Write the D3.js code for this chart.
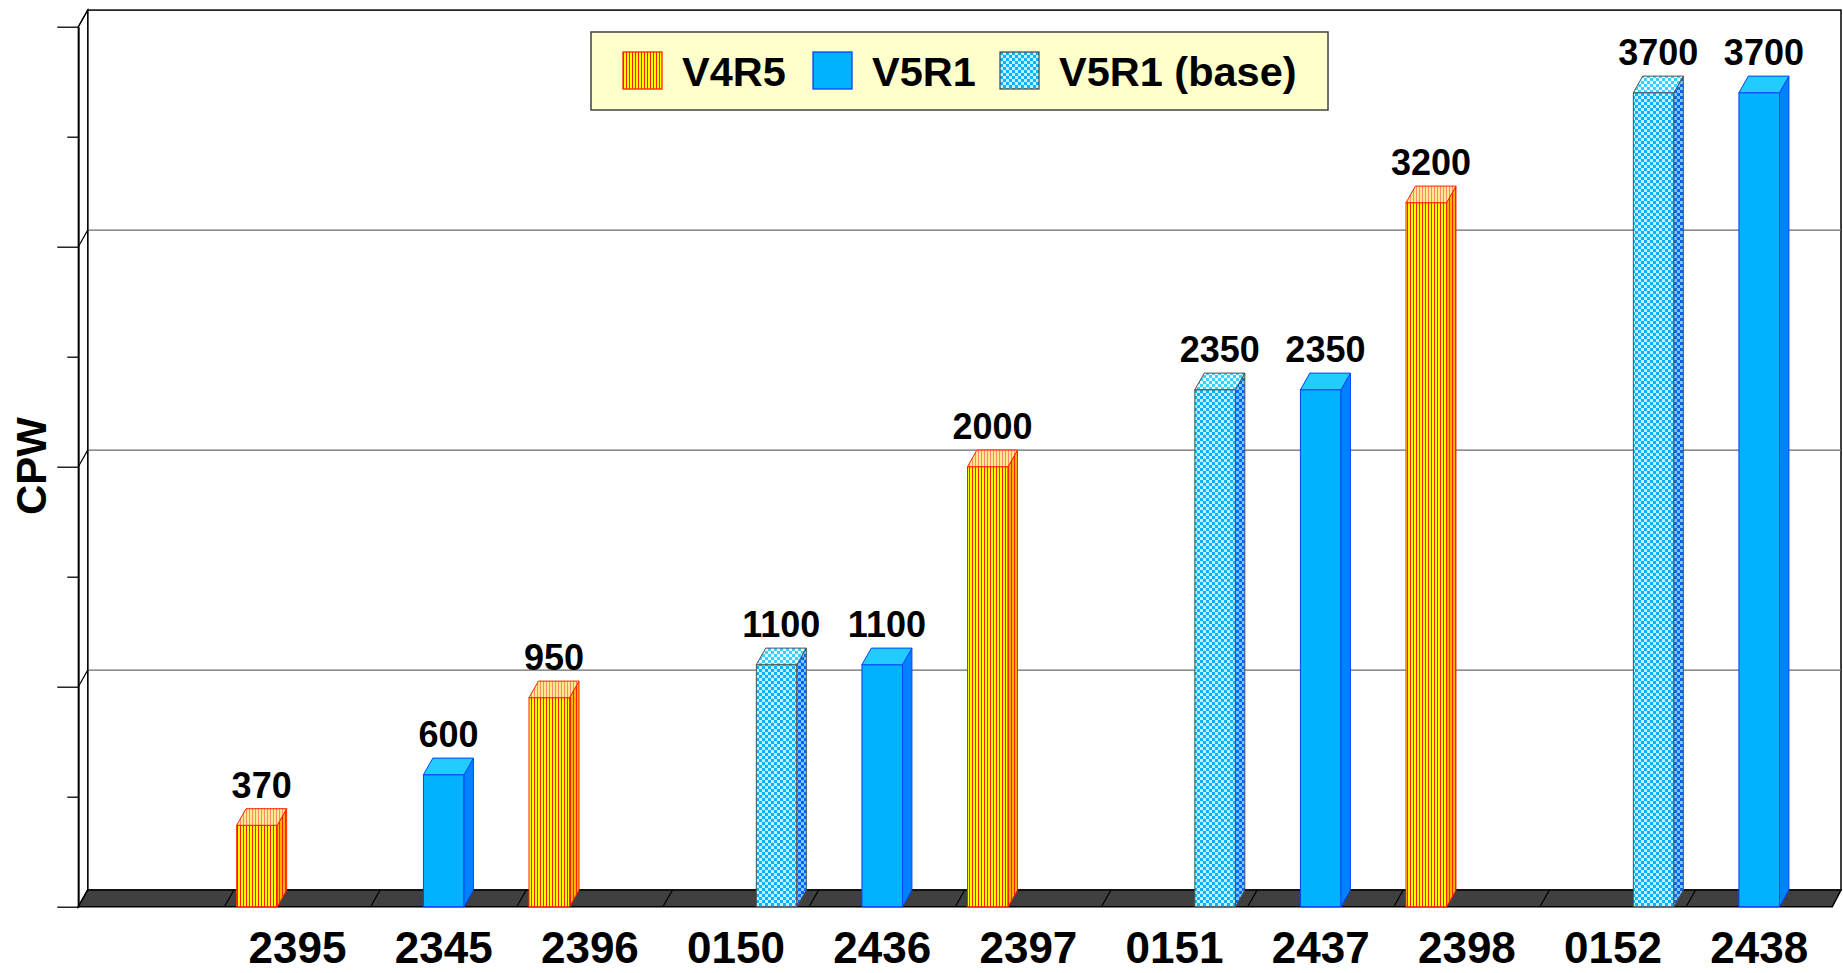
<!DOCTYPE html>
<html>
<head>
<meta charset="utf-8">
<script src="https://d3js.org/d3.v7.min.js"></script>
<style>
  body { margin: 0; background: #ffffff; }
  text { font-family: Arial, "Liberation Sans", sans-serif; font-weight: bold; }
</style>
</head>
<body>
<script>

// categories on the x axis (first slot is empty in the original)
var categories = ["", "2395", "2345", "2396", "0150", "2436", "2397", "0151", "2437", "2398", "0152", "2438"];

// series names, in the order they sit inside a category group
var series = ["V4R5", "V5R1", "V5R1 (base)"];

// values per category, null where a series has no bar
var v4r5 = [null, 370, null, 950, null, null, 2000, null, null, 3200, null, null];
var v5r1 = [null, null, 600, null, null, 1100, null, null, 2350, null, null, 3700];
var v5r1_base = [null, null, null, null, 1100, null, null, 2350, null, null, 3700, null];

// axis ticks (no tick labels are drawn in the original)
var major_ticks = [0, 1000, 2000, 3000, 4000];
var minor_ticks = [500, 1500, 2500, 3500];

var w = 1843;
var h = 973;

// 3d depth offset
var dx = 9.4;
var dy = 16.6;

// front plane of the chart
var left = 78.3;
var right = 1832.3;
var bottom = 906.7;
var top_y = 26.7;

var svg = d3.select("body")
            .append("svg")
            .attr("width", w)
            .attr("height", h);

var defs = svg.append("defs");

// make a vertical stripe pattern
function stripes(id, bg, fg) {
  var p = defs.append("pattern")
              .attr("id", id)
              .attr("patternUnits", "userSpaceOnUse")
              .attr("width", 3)
              .attr("height", 10);
  p.append("rect").attr("width", 3).attr("height", 10).attr("fill", bg);
  p.append("rect").attr("width", 1).attr("height", 10).attr("fill", fg);
}

// make a checker pattern
function checker(id, bg, fg) {
  var p = defs.append("pattern")
              .attr("id", id)
              .attr("patternUnits", "userSpaceOnUse")
              .attr("width", 6)
              .attr("height", 6);
  p.append("rect").attr("width", 6).attr("height", 6).attr("fill", bg);
  p.append("rect").attr("width", 3).attr("height", 3).attr("fill", fg);
  p.append("rect").attr("x", 3).attr("y", 3).attr("width", 3).attr("height", 3).attr("fill", fg);
}

stripes("st_front", "#ffff00", "#ff1a00");
stripes("st_top", "#ffe98a", "#ff8a70");
stripes("st_side", "#ffb000", "#ff2000");
checker("ck_front", "#c4f0ff", "#00b4ff");
checker("ck_top", "#e4f9ff", "#36d0ff");
checker("ck_side", "#7cc8ff", "#0066ff");

// styles for each series
var styles = {
  "V4R5": {front: "url(#st_front)", top: "url(#st_top)", side: "url(#st_side)", stroke: "#ff2000"},
  "V5R1": {front: "#00b2ff", top: "#22ccff", side: "#0082ff", stroke: "#0044ff"},
  "V5R1 (base)": {front: "url(#ck_front)", top: "url(#ck_top)", side: "url(#ck_side)", stroke: "#505050"}
};

// scales
var x_scale = d3.scaleBand()
                .domain(d3.range(categories.length))
                .range([left, right])
                .padding(0);

var gap = 12.2;
var x_sub = d3.scaleBand()
              .domain(series)
              .range([gap, x_scale.bandwidth() - gap])
              .padding(0);

var y_scale = d3.scaleLinear()
                .domain([0, 4000])
                .range([bottom, top_y]);

// back wall
svg.append("rect")
   .attr("x", left + dx)
   .attr("y", top_y - dy)
   .attr("width", 1841 - left - dx)
   .attr("height", bottom - top_y)
   .attr("fill", "#ffffff")
   .attr("stroke", "#000000")
   .attr("stroke-width", 1.5);

// gridlines on back wall
svg.selectAll(".grid")
   .data([1000, 2000, 3000])
   .enter()
   .append("line")
   .attr("class", "grid")
   .attr("x1", left + dx)
   .attr("x2", 1841)
   .attr("y1", function(d) { return y_scale(d) - dy; })
   .attr("y2", function(d) { return y_scale(d) - dy; })
   .attr("stroke", "#6a6a6a")
   .attr("stroke-width", 1.3);

// left wall
svg.append("path")
   .attr("d", "M" + left + "," + top_y + "L" + (left + dx) + "," + (top_y - dy) +
              "L" + (left + dx) + "," + (bottom - dy) + "L" + left + "," + bottom + "Z")
   .attr("fill", "#ffffff")
   .attr("stroke", "#000000")
   .attr("stroke-width", 1.3);

svg.selectAll(".wall_diag")
   .data(major_ticks)
   .enter()
   .append("line")
   .attr("class", "wall_diag")
   .attr("x1", left)
   .attr("x2", left + dx)
   .attr("y1", function(d) { return y_scale(d); })
   .attr("y2", function(d) { return y_scale(d) - dy; })
   .attr("stroke", "#000000")
   .attr("stroke-width", 1.2);

// floor
svg.append("path")
   .attr("d", "M" + left + "," + bottom + "L" + (left + dx) + "," + (bottom - dy) +
              "L" + 1841 + "," + (bottom - dy) + "L" + right + "," + bottom + "Z")
   .attr("fill", "#404040")
   .attr("stroke", "#000000")
   .attr("stroke-width", 1.5);

svg.selectAll(".divider")
   .data(d3.range(1, categories.length))
   .enter()
   .append("line")
   .attr("class", "divider")
   .attr("x1", function(d) { return x_scale(d); })
   .attr("x2", function(d) { return x_scale(d) + dx; })
   .attr("y1", bottom)
   .attr("y2", bottom - dy)
   .attr("stroke", "#000000")
   .attr("stroke-width", 1.2);

// build list of bars
var bars = [];
var values = {"V4R5": v4r5, "V5R1": v5r1, "V5R1 (base)": v5r1_base};
series.forEach(function(s) {
  values[s].forEach(function(v, i) {
    if (v !== null) {
      bars.push({"series": s, "index": i, "value": v});
    }
  });
});

var bar = svg.selectAll(".bar")
             .data(bars)
             .enter()
             .append("g")
             .attr("class", "bar");

// front face
bar.append("rect")
   .attr("x", function(d) { return x_scale(d.index) + x_sub(d.series); })
   .attr("y", function(d) { return y_scale(d.value); })
   .attr("width", x_sub.bandwidth())
   .attr("height", function(d) { return y_scale(0) - y_scale(d.value); })
   .attr("fill", function(d) { return styles[d.series].front; })
   .attr("stroke", function(d) { return styles[d.series].stroke; })
   .attr("stroke-width", 1);

// side face
bar.append("path")
   .attr("d", function(d) {
     var x1 = x_scale(d.index) + x_sub(d.series) + x_sub.bandwidth();
     var yt = y_scale(d.value);
     var yb = y_scale(0);
     return "M" + x1 + "," + yb + "L" + x1 + "," + yt + "L" + (x1 + dx) + "," + (yt - dy) +
            "L" + (x1 + dx) + "," + (yb - dy) + "Z";
   })
   .attr("fill", function(d) { return styles[d.series].side; })
   .attr("stroke", function(d) { return styles[d.series].stroke; })
   .attr("stroke-width", 1);

// top face
bar.append("path")
   .attr("d", function(d) {
     var x0 = x_scale(d.index) + x_sub(d.series);
     var x1 = x0 + x_sub.bandwidth();
     var yt = y_scale(d.value);
     return "M" + x0 + "," + yt + "L" + (x0 + dx) + "," + (yt - dy) + "L" + (x1 + dx) + "," + (yt - dy) +
            "L" + x1 + "," + yt + "Z";
   })
   .attr("fill", function(d) { return styles[d.series].top; })
   .attr("stroke", function(d) { return styles[d.series].stroke; })
   .attr("stroke-width", 1);

// value labels
bar.append("text")
   .attr("x", function(d) { return x_scale(d.index) + x_sub(d.series) + x_sub.bandwidth() / 2 + dx / 2; })
   .attr("y", function(d) { return y_scale(d.value) - dy - 11; })
   .attr("text-anchor", "middle")
   .style("font-size", "36px")
   .text(function(d) { return d.value; });

// y axis with long and short ticks
var y_axis = d3.axisLeft(y_scale)
               .tickValues(major_ticks)
               .tickSize(21)
               .tickSizeOuter(0)
               .tickFormat("");

var y_minor = d3.axisLeft(y_scale)
                .tickValues(minor_ticks)
                .tickSize(11)
                .tickSizeOuter(0)
                .tickFormat("");

svg.append("g")
   .attr("class", "y axis")
   .attr("transform", "translate(" + left + ",0)")
   .call(y_axis);

svg.append("g")
   .attr("class", "y axis minor")
   .attr("transform", "translate(" + left + ",0)")
   .call(y_minor);

svg.selectAll(".axis path, .axis line")
   .attr("stroke", "#000000")
   .attr("stroke-width", 1.3);

// label for y axis
svg.append("text")
   .attr("transform", "translate(46,466) rotate(-90)")
   .attr("text-anchor", "middle")
   .style("font-size", "42px")
   .text("CPW");

// category labels under the floor
svg.selectAll(".cat_label")
   .data(categories)
   .enter()
   .append("text")
   .attr("class", "cat_label")
   .attr("x", function(d, i) { return x_scale(i) + x_scale.bandwidth() / 2; })
   .attr("y", 963)
   .attr("text-anchor", "middle")
   .style("font-size", "44px")
   .text(function(d) { return d; });

// legend
var legend = svg.append("g").attr("class", "legend");

legend.append("rect")
      .attr("x", 591)
      .attr("y", 32)
      .attr("width", 737)
      .attr("height", 78)
      .attr("fill", "#ffffcc")
      .attr("stroke", "#404040")
      .attr("stroke-width", 1.5);

var legend_x = [623, 813, 1000];

var item = legend.selectAll(".item")
                 .data(series)
                 .enter()
                 .append("g")
                 .attr("class", "item")
                 .attr("transform", function(d, i) { return "translate(" + legend_x[i] + ",52)"; });

item.append("rect")
    .attr("width", 39)
    .attr("height", 37)
    .attr("fill", function(d) { return styles[d].front; })
    .attr("stroke", function(d) { return styles[d].stroke; })
    .attr("stroke-width", 1.3);

item.append("text")
    .attr("x", 59)
    .attr("y", 34)
    .style("font-size", "41.5px")
    .text(function(d) { return d; });

</script>
</body>
</html>
